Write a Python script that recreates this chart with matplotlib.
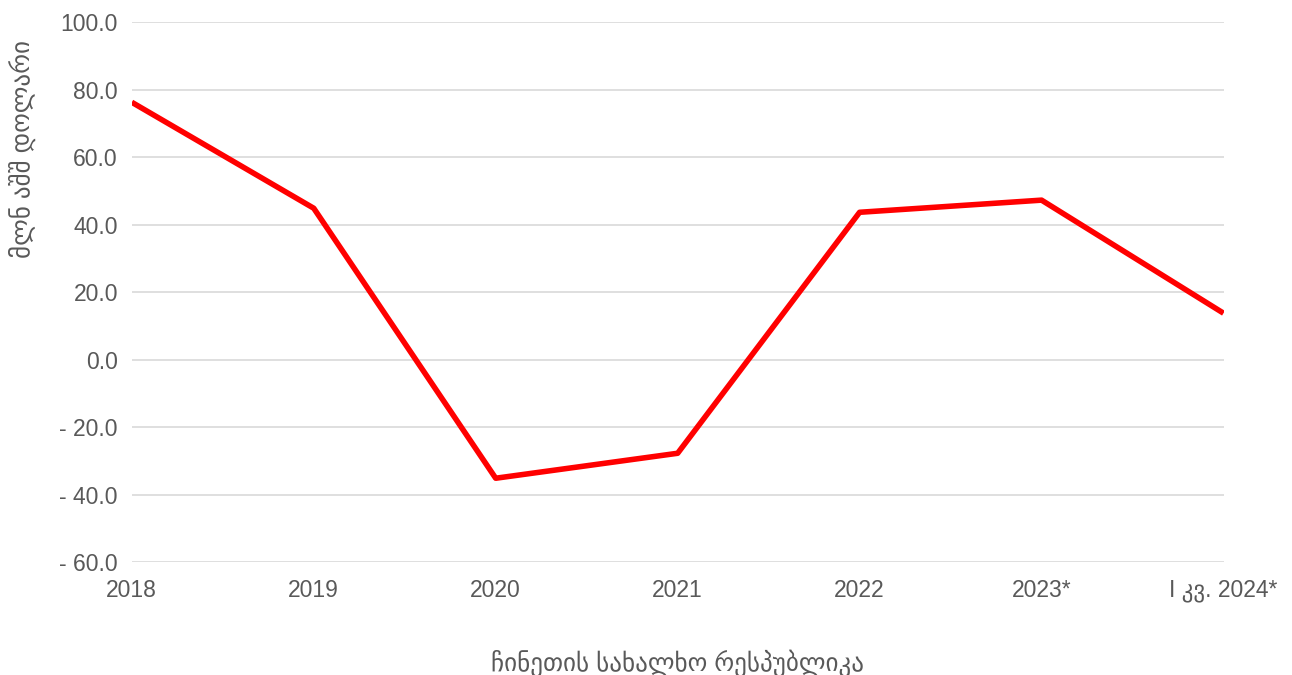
import matplotlib
matplotlib.use("Agg")
from matplotlib import pyplot as plt

plt.rcParams['font.family'] = ['Liberation Sans', 'DejaVu Sans']

# Données
annees = ["2018", "2019", "2020", "2021", "2022", "2023*", "I კვ. 2024*"]
valeurs = [76.3, 44.9, -35.1, -27.7, 43.7, 47.3, 13.8]
graduations = [-60, -40, -20, 0, 20, 40, 60, 80, 100]

gris = "#595959"

fig = plt.figure(figsize=(12.92, 6.75), dpi=100)
ax = fig.add_axes([0.102, 0.167, 0.845, 0.8])

x = list(range(len(annees)))
ax.plot(x, valeurs, color="#ff0000", linewidth=4, solid_capstyle="butt", zorder=3)

ax.set_xlim(0, len(annees) - 1)
ax.set_ylim(-60, 100)
ax.set_yticks(graduations)
ax.set_yticklabels([f"- {abs(v):.1f}" if v < 0 else f"{v:.1f}" for v in graduations])
ax.set_xticks(x)
ax.set_xticklabels(annees)
ax.tick_params(axis="both", length=0, labelsize=16.5, colors=gris)
ax.tick_params(axis="x", pad=12)
ax.tick_params(axis="y", pad=10)

ax.grid(axis="y", color="#d9d9d9", linewidth=1.2)
for s in ax.spines.values():
    s.set_visible(False)

# Titre de l'axe y placé en haut, comme dans l'original
ax.set_ylabel("მლნ აშშ დოლარი", fontsize=18, color=gris)
ax.yaxis.set_label_coords(-0.088, 0.765)
ax.set_xlabel("ჩინეთის სახალხო რესპუბლიკა", fontsize=18, color=gris, labelpad=34)

fig.savefig("out.png", dpi=100)
